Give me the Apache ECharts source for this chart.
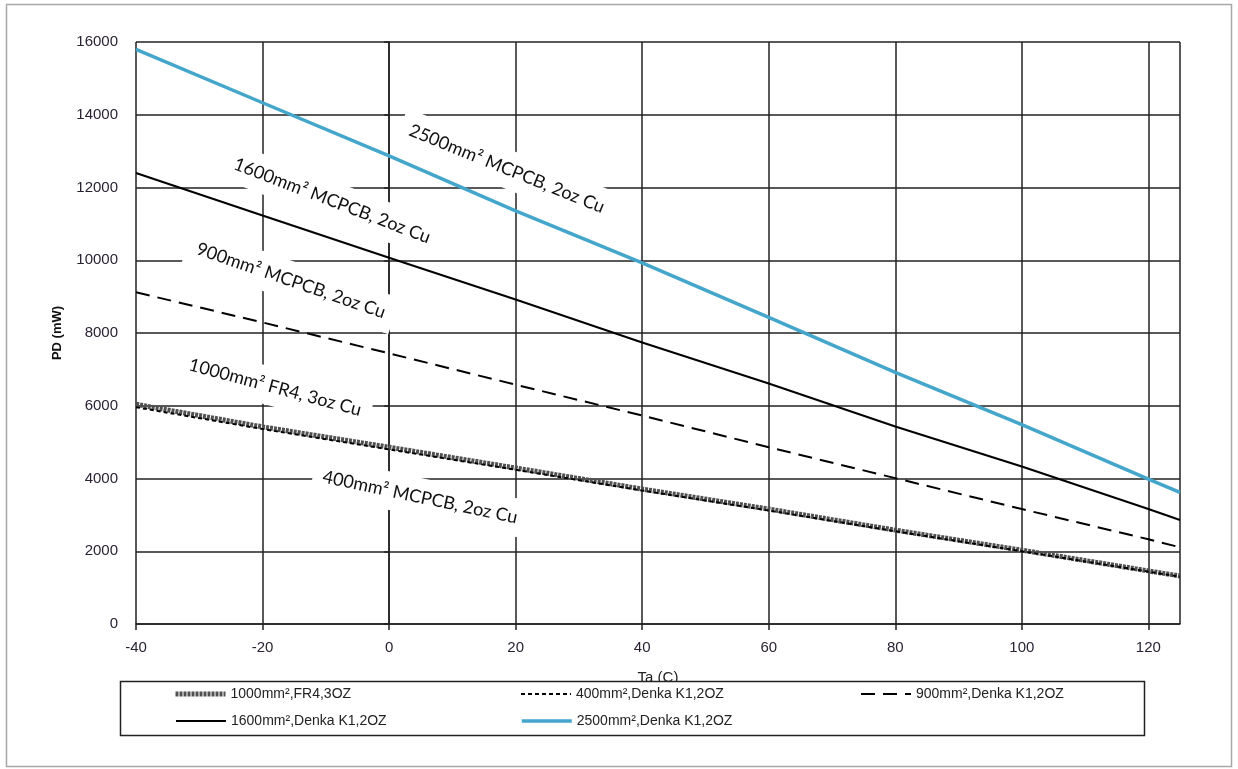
<!DOCTYPE html>
<html><head><meta charset="utf-8">
<script src="https://cdn.jsdelivr.net/npm/echarts@6/dist/echarts.min.js"></script>
<style>html,body{margin:0;padding:0;background:#fff}#c{width:1238px;height:769px}</style>
</head><body><div id="c"></div>
<script>
const temps = [-40, -20, 0, 20, 40, 60, 80, 100, 120, 125];
const fr4_1000 = [6040, 5420, 4860, 4290, 3710, 3160, 2580, 2030, 1460, 1320];
const denka_400 = [5960, 5360, 4800, 4240, 3670, 3120, 2550, 2000, 1440, 1300];
const denka_900 = [9120, 8290, 7440, 6580, 5730, 4860, 4010, 3160, 2330, 2110];
const denka_1600 = [12400, 11230, 10070, 8920, 7740, 6610, 5430, 4330, 3160, 2860];
const denka_2500 = [15800, 14330, 12870, 11360, 9930, 8430, 6920, 5480, 3980, 3620];
const seriesNames = ['1000mm²,FR4,3OZ', '400mm²,Denka K1,2OZ', '900mm²,Denka K1,2OZ', '1600mm²,Denka K1,2OZ', '2500mm²,Denka K1,2OZ'];
const yTicks = [0, 2000, 4000, 6000, 8000, 10000, 12000, 14000, 16000];
// annotations: text, data x, data y (centre), angle in degrees
const annoText = ['2500mm² MCPCB, 2oz Cu', '1600mm² MCPCB, 2oz Cu', '900mm² MCPCB, 2oz Cu', '1000mm² FR4, 3oz Cu', '400mm² MCPCB, 2oz Cu'];
const annoX = [18.6, -9.0, -15.5, -18, 4.9];
const annoY = [12514, 11636, 9440, 6504, 3485];
const annoAngle = [22, 21, 19, 15, 12];

const pair = arr => temps.map((t, i) => [t, arr[i]]);
const chart = echarts.init(document.getElementById('c'));
const styles = [
  {color: '#505050', width: 5, type: [3, 1]},
  {color: '#000', width: 2, type: [4, 3]},
  {color: '#000', width: 2, type: [14, 8]},
  {color: '#000', width: 2, type: 'solid'},
  {color: '#45a6cc', width: 3.5, type: 'solid'}
];
const datas = [fr4_1000, denka_400, denka_900, denka_1600, denka_2500];
const legendPos = [[173, 687], [520, 687], [860, 687], [175, 714], [520, 714]];
const legendFont = {fontFamily: 'Liberation Sans', fontSize: 14, color: '#222'};
const option = {
  animation: false,
  backgroundColor: '#fff',
  grid: {left: 136, right: 58, top: 42, bottom: 145, containLabel: false},
  xAxis: {
    type: 'value', min: -40, max: 125, interval: 20,
    name: 'Ta (C)', nameLocation: 'middle', nameGap: 46,
    nameTextStyle: {fontFamily: 'Liberation Sans', fontSize: 15, color: '#222'},
    axisLine: {show: true, lineStyle: {color: '#222', width: 1.5}},
    axisTick: {show: true, length: 6, inside: false, lineStyle: {color: '#222', width: 1.5}},
    axisLabel: {fontFamily: 'Liberation Sans', fontSize: 15, color: '#2a2233', margin: 16, showMaxLabel: false,
      formatter: v => (v % 20 === 0 ? String(v) : '')},
    splitLine: {show: true, lineStyle: {color: '#222', width: 1.5}}
  },
  yAxis: {
    type: 'value', min: 0, max: 16000, interval: 2000,
    name: 'PD (mW)', nameLocation: 'middle', nameGap: 72, nameRotate: 90,
    nameTextStyle: {fontFamily: 'Liberation Sans', fontSize: 13, fontWeight: 'bold', color: '#111'},
    axisLine: {show: true, lineStyle: {color: '#222', width: 1.5}},
    axisTick: {show: true, length: 5, lineStyle: {color: '#222', width: 1.5}},
    axisLabel: {fontFamily: 'Liberation Sans', fontSize: 15, color: '#2a2233', margin: 18,
      formatter: v => (yTicks.includes(v) ? String(v) : '')},
    splitLine: {show: true, lineStyle: {color: '#222', width: 1.5}}
  },
  legend: seriesNames.map((n, i) => ({
    data: [n], left: legendPos[i][0], top: legendPos[i][1], itemWidth: 50, itemHeight: 12, itemGap: 4,
    textStyle: legendFont, z: 12, padding: 0,
    itemStyle: {opacity: 0},
    lineStyle: {width: styles[i].width, type: styles[i].type, color: styles[i].color}
  })),
  series: seriesNames.map((n, i) => ({
    name: n, type: 'line', data: pair(datas[i]), symbol: 'none', smooth: false,
    lineStyle: styles[i], itemStyle: {color: styles[i].color}, z: 3 + i
  })),
  graphic: [
    {type: 'rect', shape: {x: 6.5, y: 4.5, width: 1225, height: 762}, style: {fill: 'none', stroke: '#a8a8a8', lineWidth: 1.5}, z: 1},
    {type: 'rect', shape: {x: 120.5, y: 681.5, width: 1024, height: 54}, style: {fill: '#fff', stroke: '#222', lineWidth: 1.5}, z: 10}
  ]
};
chart.setOption(option);
const annos = annoText.map((t, i) => {
  const p = chart.convertToPixel({gridIndex: 0}, [annoX[i], annoY[i]]);
  return {type: 'text', x: p[0], y: p[1], rotation: -annoAngle[i] * Math.PI / 180, z: 2,
    style: {text: t, align: 'center', verticalAlign: 'middle', fontFamily: 'Lato', fontSize: 18,
      fill: '#111', backgroundColor: '#fff', padding: [10, 10]}};
});
chart.setOption({graphic: option.graphic.concat(annos)});
</script></body></html>
